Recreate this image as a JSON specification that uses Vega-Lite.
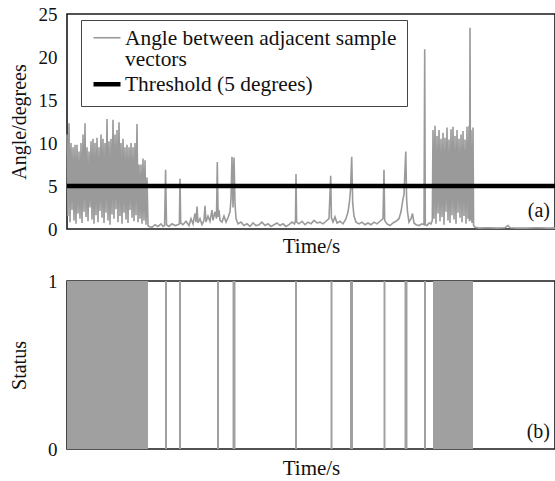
{
  "$schema": "https://vega.github.io/schema/vega-lite/v6.json",
  "padding": {"left": 8, "top": 4, "right": 0, "bottom": 0},
  "spacing": 14,
  "config": {
    "font": "Liberation Serif",
    "view": {"stroke": "#1a1a1a", "strokeWidth": 1.6},
    "axis": {"labelFont": "Liberation Serif", "titleFont": "Liberation Serif", "labelColor": "#111111", "titleColor": "#111111", "titleFontWeight": "normal", "grid": false, "ticks": false, "tickSize": 0, "domain": false},
    "style": {"guide-label": {"font": "Liberation Serif", "lineHeight": 21}, "guide-title": {"font": "Liberation Serif"}}
  },
  "resolve": {"scale": {"x": "independent", "y": "independent"}},
  "datasets": {
    "angle": [
      {"t":0,"angle":11},{"t":1,"angle":1.5},{"t":2,"angle":12.3},{"t":3,"angle":0.8},{"t":4,"angle":10},{"t":5,"angle":2.2},{"t":6,"angle":9.5},{"t":7,"angle":1.0},{"t":8,"angle":9.8},{"t":9,"angle":0.6},
      {"t":10,"angle":9.8},{"t":11,"angle":1.8},{"t":12,"angle":9},{"t":13,"angle":1.2},{"t":14,"angle":10},{"t":15,"angle":0.7},{"t":16,"angle":11},{"t":17,"angle":2.0},{"t":18,"angle":12.3},{"t":19,"angle":1.4},
      {"t":20,"angle":9.5},{"t":21,"angle":0.9},{"t":22,"angle":9},{"t":23,"angle":2.5},{"t":24,"angle":10.2},{"t":25,"angle":1.1},{"t":26,"angle":10.5},{"t":27,"angle":0.6},{"t":28,"angle":10},{"t":29,"angle":1.6},
      {"t":30,"angle":10.6},{"t":31,"angle":0.8},{"t":32,"angle":9.5},{"t":33,"angle":2.1},{"t":34,"angle":11},{"t":35,"angle":1.3},{"t":36,"angle":10.5},{"t":37,"angle":0.7},{"t":38,"angle":10},{"t":39,"angle":1.9},
      {"t":40,"angle":12.8},{"t":41,"angle":1.0},{"t":42,"angle":10.2},{"t":43,"angle":0.5},{"t":44,"angle":10.5},{"t":45,"angle":1.7},{"t":46,"angle":12.7},{"t":47,"angle":1.2},{"t":48,"angle":11},{"t":49,"angle":2.3},
      {"t":50,"angle":11.5},{"t":51,"angle":0.8},{"t":52,"angle":12.4},{"t":53,"angle":1.5},{"t":54,"angle":10},{"t":55,"angle":0.6},{"t":56,"angle":10.5},{"t":57,"angle":1.9},{"t":58,"angle":9.5},{"t":59,"angle":1.1},
      {"t":60,"angle":9.8},{"t":61,"angle":0.7},{"t":62,"angle":9.5},{"t":63,"angle":2.2},{"t":64,"angle":10},{"t":65,"angle":1.3},{"t":66,"angle":9.5},{"t":67,"angle":0.9},{"t":68,"angle":10},{"t":69,"angle":1.6},
      {"t":70,"angle":12.2},{"t":71,"angle":0.8},{"t":72,"angle":7.5},{"t":73,"angle":1.2},{"t":74,"angle":7.5},{"t":75,"angle":0.6},{"t":76,"angle":8.2},{"t":77,"angle":1.0},{"t":78,"angle":8},{"t":79,"angle":0.5},
      {"t":80,"angle":6},{"t":81,"angle":0.4},
      {"t":82,"angle":0.3},{"t":85,"angle":0.2},{"t":88,"angle":0.5},{"t":91,"angle":0.3},{"t":94,"angle":0.6},{"t":96,"angle":0.3},{"t":97.6,"angle":0.4},{"t":98.6,"angle":6.9},{"t":99.5,"angle":0.5},
      {"t":102,"angle":0.3},{"t":105,"angle":0.6},{"t":108,"angle":0.4},{"t":111,"angle":0.5},{"t":112.4,"angle":0.6},{"t":113,"angle":5.85},{"t":113.7,"angle":0.7},{"t":116,"angle":0.5},{"t":119,"angle":0.9},
      {"t":122,"angle":0.4},{"t":124,"angle":1.2},{"t":126,"angle":0.6},{"t":128,"angle":1.8},{"t":129,"angle":0.8},{"t":130,"angle":2.6},{"t":131,"angle":0.7},{"t":133,"angle":1.2},{"t":135,"angle":0.5},
      {"t":137,"angle":1.0},{"t":138,"angle":2.7},{"t":139,"angle":0.8},{"t":141,"angle":1.5},{"t":143,"angle":0.9},{"t":145,"angle":2.2},{"t":146,"angle":1.0},{"t":148,"angle":2.0},{"t":149.5,"angle":1.2},
      {"t":150.3,"angle":7.8},{"t":151.1,"angle":1.4},{"t":152,"angle":2.2},{"t":153,"angle":1.0},{"t":155,"angle":0.8},{"t":157,"angle":1.5},{"t":159,"angle":0.8},{"t":161,"angle":1.3},{"t":163,"angle":2.0},
      {"t":164,"angle":3.5},{"t":165,"angle":8.4},{"t":166,"angle":2.5},{"t":167,"angle":8.3},{"t":168,"angle":3.0},{"t":169,"angle":1.2},{"t":171,"angle":0.6},{"t":174,"angle":0.8},{"t":177,"angle":0.4},
      {"t":180,"angle":0.6},{"t":183,"angle":0.3},{"t":186,"angle":0.7},{"t":189,"angle":0.4},{"t":192,"angle":0.5},{"t":195,"angle":0.8},{"t":198,"angle":0.4},{"t":201,"angle":0.6},{"t":204,"angle":0.3},
      {"t":207,"angle":0.5},{"t":210,"angle":0.7},{"t":213,"angle":0.4},{"t":216,"angle":0.6},{"t":219,"angle":0.3},{"t":222,"angle":0.5},{"t":225,"angle":0.8},{"t":227.5,"angle":0.6},{"t":228.5,"angle":1.0},
      {"t":229,"angle":6.4},{"t":229.6,"angle":0.8},{"t":232,"angle":0.6},{"t":235,"angle":0.9},{"t":238,"angle":0.5},{"t":241,"angle":0.8},{"t":244,"angle":0.6},{"t":247,"angle":1.0},{"t":250,"angle":0.7},
      {"t":253,"angle":0.8},{"t":256,"angle":0.6},{"t":259,"angle":0.9},{"t":262,"angle":1.2},{"t":263.7,"angle":6.2},{"t":264.4,"angle":1.3},{"t":266,"angle":0.8},{"t":268,"angle":1.4},{"t":270,"angle":0.7},
      {"t":273,"angle":0.9},{"t":276,"angle":0.6},{"t":279,"angle":1.2},{"t":281,"angle":2.0},{"t":282.5,"angle":3.2},{"t":283.5,"angle":4.5},{"t":284.7,"angle":8.4},{"t":285.7,"angle":3.0},{"t":287,"angle":1.5},
      {"t":289,"angle":0.8},{"t":292,"angle":0.6},{"t":295,"angle":0.8},{"t":298,"angle":0.5},{"t":301,"angle":0.7},{"t":304,"angle":0.5},{"t":307,"angle":0.8},{"t":310,"angle":0.6},{"t":313,"angle":0.9},
      {"t":316,"angle":1.2},{"t":317,"angle":6.9},{"t":317.7,"angle":1.0},{"t":320,"angle":0.6},{"t":323,"angle":0.4},{"t":326,"angle":0.7},{"t":329,"angle":0.9},{"t":332,"angle":1.2},{"t":334,"angle":2.0},
      {"t":336,"angle":3.5},{"t":337,"angle":4.0},{"t":338.2,"angle":7.5},{"t":338.8,"angle":9.0},{"t":339.6,"angle":3.5},{"t":340.5,"angle":2.0},{"t":342,"angle":0.8},{"t":344,"angle":1.2},{"t":345.5,"angle":1.8},
      {"t":347,"angle":0.7},{"t":349,"angle":0.5},{"t":352,"angle":0.4},{"t":355,"angle":0.6},{"t":357,"angle":0.5},{"t":357.7,"angle":20.9},{"t":358.3,"angle":0.5},{"t":360,"angle":0.4},{"t":362,"angle":0.7},
      {"t":364,"angle":0.6},{"t":365.3,"angle":1.0},
      {"t":366,"angle":11.5},{"t":367,"angle":1.2},{"t":368,"angle":12},{"t":369,"angle":0.6},{"t":370,"angle":10.8},{"t":371,"angle":1.8},{"t":372,"angle":11.5},{"t":373,"angle":0.9},{"t":374,"angle":10.5},
      {"t":375,"angle":1.4},{"t":376,"angle":11.2},{"t":377,"angle":0.5},{"t":378,"angle":10.6},{"t":379,"angle":2.0},{"t":380,"angle":11.8},{"t":381,"angle":1.0},{"t":382,"angle":10.4},{"t":383,"angle":0.7},
      {"t":384,"angle":11.6},{"t":385,"angle":1.6},{"t":386,"angle":11.9},{"t":387,"angle":1.1},{"t":388,"angle":10.8},{"t":389,"angle":0.6},{"t":390,"angle":11.5},{"t":391,"angle":1.9},{"t":392,"angle":10.5},
      {"t":393,"angle":1.3},{"t":394,"angle":11},{"t":395,"angle":0.8},{"t":396,"angle":11.4},{"t":397,"angle":1.5},{"t":398,"angle":10.4},{"t":399,"angle":0.6},{"t":400,"angle":11.9},{"t":401,"angle":1.2},
      {"t":402,"angle":12},{"t":402.5,"angle":0.9},{"t":403,"angle":23.4},{"t":403.5,"angle":1.0},{"t":404,"angle":11.5},{"t":405,"angle":0.7},{"t":406,"angle":11.8},{"t":406.6,"angle":0.4},
      {"t":408,"angle":0.2},{"t":412,"angle":0.1},{"t":420,"angle":0.15},{"t":430,"angle":0.1},{"t":438,"angle":0.15},{"t":441,"angle":0.4},{"t":443,"angle":0.15},{"t":450,"angle":0.1},{"t":460,"angle":0.1},
      {"t":470,"angle":0.15},{"t":480,"angle":0.1},{"t":488,"angle":0.1}
    ],
    "threshold": [{"angle": 5}],
    "labelA": [{"t": 483, "angle": 2.1, "label": "(a)"}],
    "status": [
      {"start": 0, "end": 81, "status": 1},
      {"start": 98, "end": 100, "status": 1},
      {"start": 112, "end": 114, "status": 1},
      {"start": 150, "end": 152, "status": 1},
      {"start": 165.5, "end": 168.5, "status": 1},
      {"start": 228, "end": 230, "status": 1},
      {"start": 263.5, "end": 265.5, "status": 1},
      {"start": 283, "end": 286, "status": 1},
      {"start": 316.5, "end": 318.5, "status": 1},
      {"start": 337.5, "end": 340.5, "status": 1},
      {"start": 357, "end": 359, "status": 1},
      {"start": 366, "end": 406, "status": 1}
    ],
    "labelB": [{"t": 483, "status": 0.1, "label": "(b)"}]
  },
  "vconcat": [
    {
      "width": 488,
      "height": 215,
      "layer": [
        {
          "data": {"name": "angle"},
          "mark": {"type": "line"},
          "encoding": {
            "x": {"field": "t", "type": "quantitative", "scale": {"domain": [0, 488], "nice": false, "zero": false}, "axis": {"title": "Time/s", "labels": false, "titleFontSize": 21, "titlePadding": 6}},
            "y": {"field": "angle", "type": "quantitative", "scale": {"domain": [0, 25], "nice": false}, "axis": {"title": "Angle/degrees", "values": [0, 5, 10, 15, 20, 25], "labelFont": "Liberation Serif", "labelFontSize": 19, "labelPadding": 10, "titleFontSize": 20, "titlePadding": 9, "minExtent": 29, "maxExtent": 29}},
            "color": {"datum": "Angle between adjacent sample vectors", "type": "nominal",
              "scale": {"domain": ["Angle between adjacent sample vectors", "Threshold (5 degrees)"], "range": ["#9a9a9a", "#000000"]},
              "legend": {"title": null, "orient": "none", "legendX": 14, "legendY": 6, "symbolType": "M-1,-0.5H1", "symbolSize": 729, "labelFontSize": 21.4, "labelFont": "Liberation Serif", "labelColor": "#111111", "labelBaseline": "alphabetic", "labelOffset": 2, "labelLimit": 400, "strokeColor": "#444444", "fillColor": "white", "padding": 10, "rowPadding": 4,
                "labelExpr": "datum.label == 'Angle between adjacent sample vectors' ? ['Angle between adjacent sample', 'vectors'] : datum.label"}},
            "strokeWidth": {"datum": "Angle between adjacent sample vectors", "type": "nominal",
              "scale": {"domain": ["Angle between adjacent sample vectors", "Threshold (5 degrees)"], "range": [1.6, 4.5]},
              "legend": {"title": null, "orient": "none", "legendX": 14, "legendY": 6, "symbolType": "M-1,-0.5H1", "symbolSize": 729, "labelFontSize": 21.4, "labelFont": "Liberation Serif", "labelColor": "#111111", "labelBaseline": "alphabetic", "labelOffset": 2, "labelLimit": 400, "strokeColor": "#444444", "fillColor": "white", "padding": 10, "rowPadding": 4,
                "labelExpr": "datum.label == 'Angle between adjacent sample vectors' ? ['Angle between adjacent sample', 'vectors'] : datum.label"}}
          }
        },
        {
          "data": {"name": "threshold"},
          "mark": {"type": "rule"},
          "encoding": {
            "y": {"field": "angle", "type": "quantitative"},
            "color": {"datum": "Threshold (5 degrees)", "type": "nominal"},
            "strokeWidth": {"datum": "Threshold (5 degrees)", "type": "nominal"}
          }
        },
        {
          "data": {"name": "labelA"},
          "mark": {"type": "text", "align": "right", "baseline": "middle", "fontSize": 20, "font": "Liberation Serif", "color": "#111111"},
          "encoding": {
            "x": {"field": "t", "type": "quantitative"},
            "y": {"field": "angle", "type": "quantitative"},
            "text": {"field": "label"}
          }
        }
      ]
    },
    {
      "width": 488,
      "height": 168,
      "layer": [
        {
          "data": {"name": "status"},
          "mark": {"type": "rect", "color": "#a0a0a0"},
          "encoding": {
            "x": {"field": "start", "type": "quantitative", "scale": {"domain": [0, 488], "nice": false, "zero": false}, "axis": {"title": "Time/s", "labels": false, "titleFontSize": 21, "titlePadding": 8}},
            "x2": {"field": "end"},
            "y": {"field": "status", "type": "quantitative", "scale": {"domain": [0, 1], "nice": false}, "axis": {"title": "Status", "values": [0, 1], "format": "d", "labelFont": "Liberation Serif", "labelFontSize": 19, "labelPadding": 10, "titleFontSize": 20, "titlePadding": 9, "minExtent": 29, "maxExtent": 29}},
            "y2": {"datum": 0}
          }
        },
        {
          "data": {"name": "labelB"},
          "mark": {"type": "text", "align": "right", "baseline": "middle", "fontSize": 20, "font": "Liberation Serif", "color": "#111111"},
          "encoding": {
            "x": {"field": "t", "type": "quantitative"},
            "y": {"field": "status", "type": "quantitative"},
            "text": {"field": "label"}
          }
        }
      ]
    }
  ]
}
